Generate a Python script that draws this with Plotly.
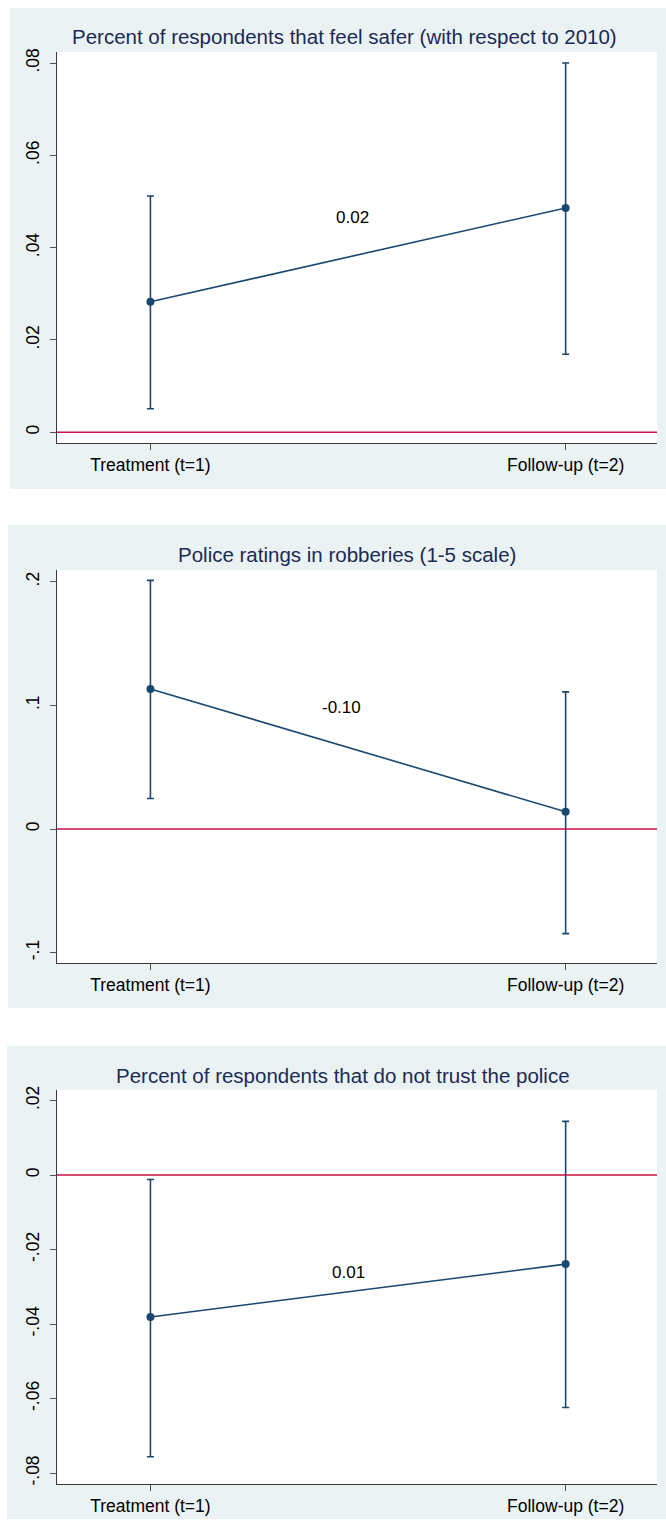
import plotly.graph_objects as go

# ---------------- data ----------------
periods = ["Treatment (t=1)", "Follow-up (t=2)"]
period_x = [1, 2]

titles = [
    "Percent of respondents that feel safer (with respect to 2010)",
    "Police ratings in robberies (1-5 scale)",
    "Percent of respondents that do not trust the police",
]

safer_est = [0.0283, 0.0486]
safer_lo = [0.0051, 0.0169]
safer_hi = [0.0512, 0.0800]

police_est = [0.1133, 0.0139]
police_lo = [0.0247, -0.0846]
police_hi = [0.2011, 0.1109]

trust_est = [-0.0381, -0.0239]
trust_lo = [-0.0756, -0.0624]
trust_hi = [-0.0012, 0.0144]

diff_labels = ["0.02", "-0.10", "0.01"]
diff_label_x = [1.487, 1.459, 1.477]
diff_label_y = [0.0466, 0.098, -0.0261]

safer_ticks = [0, 0.02, 0.04, 0.06, 0.08]
safer_ticktext = ["0", ".02", ".04", ".06", ".08"]
police_ticks = [-0.1, 0, 0.1, 0.2]
police_ticktext = ["-.1", "0", ".1", ".2"]
trust_ticks = [-0.08, -0.06, -0.04, -0.02, 0, 0.02]
trust_ticktext = ["-.08", "-.06", "-.04", "-.02", "0", ".02"]

# ---------------- styling / layout ----------------
W, H = 666, 1526
NAVY = "#1a476f"
RED = "#cc1144"
PANEL_BG = "#eaf2f3"
TITLE_COLOR = "#1c2a55"
FONT = "Liberation Sans, Arial, sans-serif"

plot_left, plot_right = 57, 657
# (panel bg top, bottom, left), (plot top, bottom), y range, title (x, y)
panels = [
    dict(bg=(4, 487, 10), plot=(48.3, 440.7), yr=(-0.00231, 0.08237), title=(344, 33)),
    dict(bg=(523, 1008, 8), plot=(568.3, 962.7), yr=(-0.10826, 0.20943), title=(347, 553)),
    dict(bg=(1046, 1521, 7), plot=(1090, 1485.7), yr=(-0.08289, 0.02291), title=(343, 1076)),
]

series = [
    (safer_est, safer_lo, safer_hi, safer_ticks, safer_ticktext),
    (police_est, police_lo, police_hi, police_ticks, police_ticktext),
    (trust_est, trust_lo, trust_hi, trust_ticks, trust_ticktext),
]

fig = go.Figure()
shapes = []
annotations = []
layout_axes = {}

def py(p):
    return 1 - p / H

for i, (pan, (est, lo, hi, tv, tt)) in enumerate(zip(panels, series)):
    n = "" if i == 0 else str(i + 1)
    xref, yref = "x" + n, "y" + n
    err_plus = [h - e for h, e in zip(hi, est)]
    err_minus = [e - l for e, l in zip(est, lo)]
    fig.add_trace(go.Scatter(
        x=period_x, y=est, mode="lines+markers",
        line=dict(color=NAVY, width=1.6),
        marker=dict(color=NAVY, size=8),
        error_y=dict(type="data", symmetric=False, array=err_plus, arrayminus=err_minus,
                     color=NAVY, thickness=1.6, width=3.5),
        xaxis=xref, yaxis=yref, showlegend=False, hoverinfo="skip",
    ))
    bt, bb, bl = pan["bg"]
    shapes.append(dict(type="rect", xref="paper", yref="paper", layer="below",
                       x0=bl / W, x1=1, y0=py(bb), y1=py(bt),
                       fillcolor=PANEL_BG, line=dict(width=0)))
    pt, pb = pan["plot"]
    shapes.append(dict(type="rect", xref="paper", yref="paper", layer="below",
                       x0=plot_left / W, x1=plot_right / W, y0=py(pb), y1=py(pt),
                       fillcolor="white", line=dict(width=0)))
    shapes.append(dict(type="line", xref=xref + " domain", yref=yref,
                       x0=0, x1=1, y0=0, y1=0, layer="above",
                       line=dict(color=RED, width=1.6)))
    tx, ty = pan["title"]
    annotations.append(dict(text=titles[i], xref="paper", yref="paper",
                            x=tx / W, y=py(ty), xanchor="center", yanchor="middle",
                            showarrow=False, font=dict(family=FONT, size=20.5, color=TITLE_COLOR)))
    annotations.append(dict(text=diff_labels[i], xref=xref, yref=yref,
                            x=diff_label_x[i], y=diff_label_y[i], showarrow=False,
                            xanchor="center", yanchor="middle",
                            font=dict(family=FONT, size=17, color="black")))
    layout_axes["xaxis" + n] = dict(
        domain=[plot_left / W, plot_right / W], anchor=yref, range=[0.775, 2.22],
        tickvals=period_x, ticktext=periods, showgrid=False, zeroline=False,
        showline=True, linecolor="#3a3a3a", linewidth=1.3,
        ticks="outside", ticklen=6, tickcolor="#555", tickwidth=1,
        tickfont=dict(family=FONT, size=17.5, color="black"), fixedrange=True,
    )
    layout_axes["yaxis" + n] = dict(
        domain=[py(pb), py(pt)], anchor=xref, range=list(pan["yr"]),
        tickvals=tv, ticktext=tt, tickangle=-90, showgrid=False, zeroline=False,
        showline=True, linecolor="#3a3a3a", linewidth=1.3,
        ticks="outside", ticklen=6, tickcolor="#555", tickwidth=1,
        ticklabelstandoff=4,
        tickfont=dict(family=FONT, size=17.5, color="black"), fixedrange=True,
    )

fig.update_layout(
    width=W, height=H, margin=dict(l=0, r=0, t=0, b=0),
    paper_bgcolor="white", plot_bgcolor="white",
    shapes=shapes, annotations=annotations, showlegend=False,
    font=dict(family=FONT),
    **layout_axes,
)

fig.write_html(
    "out.html",
    config={"displayModeBar": False},
    post_script="document.body.style.margin='0';document.body.style.overflow='hidden';",
)
